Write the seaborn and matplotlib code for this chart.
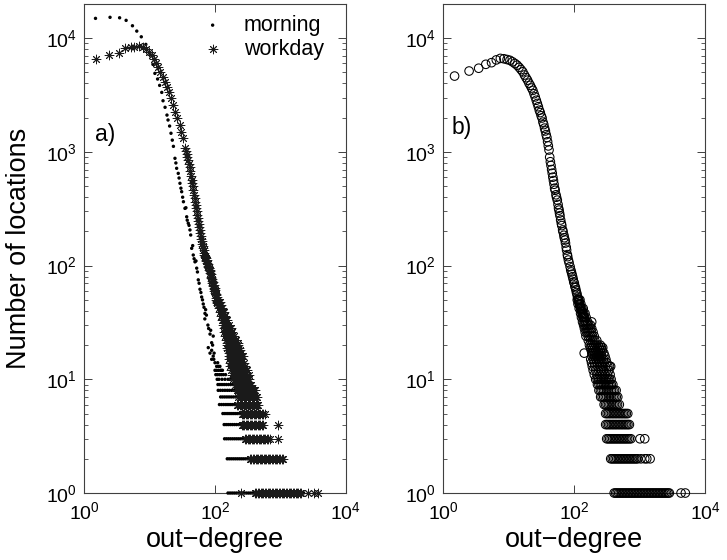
import numpy as np
import pandas as pd
import matplotlib
matplotlib.use("Agg")
import matplotlib.pyplot as plt
import seaborn as sns
from matplotlib.ticker import FixedLocator, NullLocator, LogLocator, LogFormatterSciNotation

plt.rcParams['font.family'] = ['Liberation Sans', 'DejaVu Sans']
plt.rcParams['mathtext.fontset'] = 'custom'
plt.rcParams['mathtext.rm'] = 'Liberation Sans'
plt.rcParams['mathtext.it'] = 'Liberation Sans:italic'
plt.rcParams['mathtext.bf'] = 'Liberation Sans:bold'

# ---------------- panel a) : morning ----------------
morning_head_deg = [1.5, 2.5, 3.5, 4.4, 5.5, 6.4, 7.5, 8.8, 10.2, 11.3, 12.1, 13.3, 14.3, 15.4,
                    16.1, 17.3, 18.5, 19.2, 20.3, 21.3, 22.3, 23.2, 24.5, 25.3, 26.0, 27.5, 28.3,
                    29.2, 30.2, 31.0, 32.1, 33.0, 34.8, 36.0, 37.0, 37.7, 39.1, 40.2, 41.5, 42.6,
                    44.1, 45.7, 46.6, 48.0, 49.5, 51.3, 52.6, 54.0, 55.6, 57.2, 59.0, 61.0, 62.6,
                    64.5, 66.2, 68.0, 70.3, 72.0, 74.0, 70.0]
morning_head_cnt = [14960, 15280, 15140, 14370, 12880, 11560, 10300, 8830, 7120, 5890, 4910, 4380,
                    3850, 3340, 2820, 2470, 2110, 1910, 1690, 1460, 1270, 1120, 879, 800, 718, 648,
                    590, 530, 480, 447, 400, 365, 319, 323, 269, 251, 236, 226, 206, 186, 142, 150,
                    124, 115, 108, 110, 95, 88, 75, 70, 62, 58, 53, 50, 46, 43, 38, 41, 36.7, 34]
morning_scatter_deg = [84, 94, 89, 79, 89, 84, 94, 89, 100, 106, 119, 100, 126, 103, 78, 80, 86,
                       92, 97, 110, 113, 96]
morning_scatter_cnt = [25, 24, 21, 19, 18, 17, 16, 15, 14, 13, 13, 12, 12, 11, 30, 28, 27,
                       20, 17, 14, 13, 15]
morning_levels = [12, 11, 10, 9, 8, 7, 6, 5, 4, 3, 2, 1]
morning_level_deg = [
    [106, 113, 121, 130],
    [109, 117, 125, 134, 145],
    [108, 115, 128, 142, 158, 169, 185, 205],
    [111, 119, 128, 138, 149, 161, 174, 188, 205, 225],
    [112, 121, 131, 142, 154, 166, 180, 195, 212, 232, 255],
    [122, 131, 141, 152, 164, 177, 191, 206, 223, 242, 263, 286],
    [117, 126, 136, 147, 158, 170, 183, 197, 212, 228, 246, 266, 288, 312],
    [132, 142, 153, 164, 176, 189, 203, 218, 234, 251, 270, 290, 312, 336, 362],
    [138, 148, 159, 171, 184, 198, 213, 229, 246, 264, 284, 305, 328, 353, 380, 410],
    [140, 150, 161, 173, 186, 200, 215, 231, 248, 266, 286, 307, 330, 355, 382, 411, 442, 476],
    [154, 165, 177, 190, 204, 219, 235, 252, 270, 290, 311, 334, 358, 384, 412, 442, 474, 508,
     545, 585, 628, 674, 723, 776, 832, 893, 958, 1028, 1103],
    [158, 170, 183, 197, 212, 228, 245, 263, 283, 304, 327, 351, 377, 405, 435, 467, 502, 539,
     579, 622, 668, 717, 770, 827, 888, 954, 1024, 1100, 1181, 1268, 1362, 1462, 1570, 1686,
     1811, 1945, 2089, 2250],
]

# ---------------- panel a) : workday ----------------
workday_head_deg = [1.5, 2.4, 3.4, 4.3, 5.2, 5.9, 6.9, 8.0, 8.9, 9.8, 10.8, 11.7, 12.7, 13.5, 14.6,
                    15.9, 17.1, 18.7, 20.0, 21.5, 23.1, 24.8, 26.6, 28.9, 30.6, 32.8, 35.2]
workday_head_cnt = [6560, 7120, 7460, 8150, 8370, 8420, 8490, 8420, 8030, 7600, 7120, 6560, 6010,
                    5540, 5080, 4580, 4140, 3740, 3340, 2960, 2590, 2260, 1970, 1730, 1510, 1320, 1080]
workday_mid_deg = [36, 37, 38, 39, 40, 41, 42, 43, 44, 45, 46, 47, 48, 49, 50, 51, 52, 53, 54, 55,
                   56, 57, 58, 59, 60, 61, 62, 63, 64, 65, 66, 67, 68, 69, 70, 71, 72, 73, 74, 75,
                   76, 77, 78, 79, 80, 81, 82, 83, 84, 85, 86, 87, 88, 89, 90, 91, 92, 93, 94, 95,
                   96, 97, 98, 99, 100, 101, 102, 103, 104, 105, 106, 107, 108, 109, 110]
workday_mid_cnt = [1020, 960, 900, 850, 790, 730, 680, 620, 570, 530, 500, 460, 420, 390, 365, 340,
                   320, 300, 280, 262, 248, 232, 218, 205, 195, 184, 172, 165, 155, 150, 142, 136,
                   130, 125, 122, 118, 116, 112, 110, 113, 106, 104, 100, 98, 96, 95, 92, 90, 91,
                   86, 84, 80, 78, 76, 74, 71, 72, 68, 66, 67, 64, 62, 60, 63, 61, 57, 55, 56, 52,
                   50, 53, 49, 47, 48, 45]
workday_levels = [48, 45, 42, 39, 36, 33, 30, 28, 26, 24, 22, 21, 20, 19, 18, 17, 16, 15, 14, 13,
                  12, 11, 10, 9, 8, 7, 6, 5, 4, 3, 2, 1]
workday_level_deg = [
    [110, 116, 121],
    [113, 119, 125],
    [116, 122, 129],
    [119, 126, 133, 139],
    [123, 130, 137, 144],
    [128, 134, 141, 148, 154],
    [132, 139, 146, 154, 162],
    [135, 143, 151, 160, 169, 178],
    [139, 147, 156, 165, 174, 184],
    [142, 151, 161, 171, 181, 192],
    [146, 156, 166, 177, 188, 200, 212],
    [150, 226],
    [152, 162, 173, 185, 197, 210, 222],
    [155, 166, 178, 190, 203, 217, 231],
    [158, 170, 182, 195, 209, 224, 239],
    [161, 173, 186, 200, 215, 231, 248],
    [164, 177, 191, 205, 221, 238, 255, 270],
    [166, 180, 195, 210, 227, 245, 263],
    [168, 183, 199, 216, 234, 253, 273],
    [170, 186, 203, 221, 240, 260, 285],
    [178, 194, 212, 231, 251, 272, 296, 310],
    [184, 201, 219, 238, 259, 281, 305, 325],
    [191, 200, 210, 220, 231, 242, 254, 266, 279, 292, 306, 321, 336],
    [204, 214, 224, 235, 246, 258, 270, 283, 296, 310, 325, 341, 361],
    [214, 224, 235, 246, 258, 270, 283, 297, 311, 326, 342, 358, 375, 392, 407],
    [228, 239, 250, 262, 275, 288, 302, 316, 331, 347, 364, 381, 399, 417, 434],
    [215, 226, 237, 249, 261, 274, 287, 301, 316, 331, 347, 364, 382, 400, 419, 437, 456],
    [255, 267, 280, 294, 308, 323, 339, 355, 372, 390, 409, 429, 450, 472, 495, 519, 545, 575],
    [255, 267, 280, 294, 308, 323, 339, 355, 372, 390, 409, 429, 450, 472, 495, 519, 544, 920],
    [288, 302, 317, 332, 348, 365, 383, 401, 421, 441, 463, 485, 509, 534, 560, 588, 617, 652,
     690, 920],
    [344, 361, 378, 397, 416, 436, 457, 480, 503, 528, 554, 581, 609, 639, 670, 703, 738, 774,
     812, 852, 893, 937, 983, 1040, 1100],
    [254, 410, 430, 452, 475, 499, 524, 550, 578, 607, 637, 669, 703, 738, 775, 814, 855, 898,
     943, 990, 1040, 1092, 1147, 1204, 1265, 1328, 1395, 1465, 1538, 1615, 1696, 1781, 1870,
     1963, 2090, 2660, 3240, 3750],
]

# ---------------- panel b) ----------------
b_head_deg = [1.5, 2.5, 3.5, 4.5, 5.5, 6.5, 7.5, 8.5, 9.5, 10.5, 11.5, 12.5, 13.5, 14.5, 15.5,
              16.5, 17.5, 18.5, 19.5, 20.5, 21.5, 22.5, 23.5, 24.5, 25.5, 26.5, 27.5, 28.5, 29.5,
              30.5, 31.5, 32.5, 33.5, 34.5, 35.5, 36.5, 37.5, 38.5, 39.5, 40.5, 41.5, 42.5, 43.5,
              44.5, 45.5, 46.5, 47.5, 48.5, 49.5, 50.5, 51.5, 53, 54, 55.5, 57, 58, 59, 60, 61,
              62.5, 64, 65, 67, 68, 70, 71, 73, 74, 76, 77, 79, 80, 82, 84, 87, 89, 91, 93, 95,
              97, 99, 101, 103, 105, 107, 109, 111, 113, 115, 117, 119, 121, 124, 127, 130, 133,
              136, 139, 142]
b_head_cnt = [4650, 5150, 5450, 5900, 6100, 6450, 6650, 6600, 6500, 6400, 6200, 6000, 5800, 5550,
              5300, 5070, 4750, 4500, 4280, 4030, 3850, 3650, 3480, 3250, 3050, 2850, 2670, 2500,
              2330, 2220, 2080, 1990, 1830, 1740, 1620, 1530, 1420, 1340, 1230, 1130, 1040, 900,
              820, 760, 700, 650, 600, 560, 520, 480, 460, 420, 400, 377, 345, 320, 308, 290, 275,
              252, 235, 225, 206, 198, 185, 176, 168, 158, 145, 137, 125, 120, 112, 106, 98, 92,
              88, 84, 80, 76, 72, 70, 66, 64, 61, 58, 56, 53, 51, 50, 48, 46, 44, 42, 40, 39, 37,
              36, 35]
b_levels = [50, 46, 42, 38, 35, 32, 30, 28, 26, 24, 22, 20, 19, 18, 17, 16, 15, 14, 13, 12, 11,
            10, 9, 8, 7, 6, 5, 4, 3, 2, 1]
b_level_deg = [
    [112, 118, 123],
    [115, 121, 127],
    [120, 126, 132, 138],
    [126, 133, 140, 147],
    [130, 137, 145, 153],
    [135, 143, 152, 161, 186],
    [140, 149, 158, 168, 178],
    [144, 154, 164, 175, 186],
    [148, 159, 170, 182, 195],
    [152, 164, 176, 189, 203],
    [165, 178, 192, 207, 222],
    [172, 186, 201, 217, 234, 252],
    [178, 193, 209, 226, 244, 262, 274],
    [183, 198, 215, 233, 252, 270],
    [143, 187, 203, 220, 238, 257, 285],
    [188, 205, 223, 242, 262, 296],
    [180, 197, 216, 236, 258, 281, 306],
    [185, 203, 222, 243, 266, 290, 316],
    [190, 208, 228, 250, 274, 300, 328, 348, 362],
    [196, 215, 236, 259, 284, 311, 340],
    [204, 224, 246, 270, 296, 324, 355],
    [214, 226, 238, 251, 265, 280, 296, 313, 331, 349, 368],
    [228, 240, 253, 267, 282, 298, 315, 333, 352, 371, 391],
    [240, 253, 267, 282, 298, 315, 333, 352, 372, 393, 415, 439],
    [255, 269, 284, 300, 317, 335, 354, 374, 395, 418, 441, 465],
    [288, 303, 319, 336, 354, 373, 393, 414, 437, 461, 491],
    [304, 320, 337, 355, 374, 394, 415, 437, 460, 485, 511, 538, 567, 597, 628, 661],
    [304, 320, 337, 355, 374, 394, 415, 437, 461, 486, 512, 540, 569, 600, 632, 665, 700],
    [315, 332, 350, 369, 389, 410, 432, 455, 480, 506, 533, 562, 592, 624, 658, 697, 739, 1015,
     1200],
    [363, 382, 403, 425, 448, 472, 497, 524, 552, 582, 613, 646, 681, 718, 757, 798, 841, 886,
     934, 1050, 1200, 1290, 1450],
    [410, 432, 455, 480, 506, 533, 562, 592, 624, 658, 693, 731, 770, 812, 856, 902, 951, 1002,
     1056, 1113, 1173, 1237, 1304, 1374, 1449, 1527, 1609, 1696, 1788, 1885, 1987, 2094, 2207,
     2326, 2452, 2585, 2725, 2850, 4300, 5000],
]


def build(head_deg, head_cnt, extra_deg, extra_cnt, levels, level_deg):
    xs = list(head_deg) + list(extra_deg)
    ys = list(head_cnt) + list(extra_cnt)
    for c, ds in zip(levels, level_deg):
        xs += list(ds)
        ys += [c] * len(ds)
    return pd.DataFrame({"deg": xs, "cnt": ys})


df_morning = build(morning_head_deg, morning_head_cnt, morning_scatter_deg, morning_scatter_cnt,
                   morning_levels, morning_level_deg)
df_workday = build(workday_head_deg, workday_head_cnt, workday_mid_deg, workday_mid_cnt,
                   workday_levels, workday_level_deg)
df_b = build(b_head_deg, b_head_cnt, [], [], b_levels, b_level_deg)

fig = plt.figure(figsize=(7.27, 5.60), dpi=100)
ax1 = fig.add_axes([0.1155, 0.1196, 0.3604, 0.8732])
ax2 = fig.add_axes([0.6094, 0.1196, 0.3604, 0.8732])

sns.scatterplot(data=df_morning, x="deg", y="cnt", ax=ax1, marker="o", s=6, color="black",
                edgecolor="none", label="morning", clip_on=False, zorder=3)
sns.scatterplot(data=df_workday, x="deg", y="cnt", ax=ax1, marker=(8, 2, 0), s=40,
                color="#1a1a1a", linewidth=0.65, label="workday", clip_on=False, zorder=4)
sns.scatterplot(data=df_b, x="deg", y="cnt", ax=ax2, marker="o", s=38, facecolor="none",
                edgecolor="black", linewidth=0.75, clip_on=False, zorder=3)

for ax in (ax1, ax2):
    ax.set_xscale("log")
    ax.set_yscale("log")
    ax.set_xlim(1, 1e4)
    ax.set_ylim(1, 2e4)
    ax.xaxis.set_major_locator(FixedLocator([1, 100, 10000]))
    ax.xaxis.set_minor_locator(NullLocator())
    ax.yaxis.set_major_locator(FixedLocator([1, 10, 100, 1000, 10000]))
    ax.yaxis.set_minor_locator(LogLocator(base=10, subs=np.arange(2, 10), numticks=20))
    ax.xaxis.set_major_formatter(LogFormatterSciNotation())
    ax.yaxis.set_major_formatter(LogFormatterSciNotation())
    ax.tick_params(which="both", direction="in", top=True, right=True, labelsize=14,
                   color="0.25")
    ax.tick_params(which="major", length=5.5, width=0.7)
    ax.tick_params(axis="y", which="major", pad=5)
    ax.tick_params(axis="x", which="major", pad=6)
    ax.tick_params(which="minor", length=3, width=0.6)
    for sp in ax.spines.values():
        sp.set_color("0.25")
        sp.set_linewidth(0.8)
    ax.set_xlabel("out\u2212degree", fontsize=19.5, labelpad=3)
    ax.set_ylabel("")

ax1.set_ylabel("Number of locations", fontsize=19.5, labelpad=10)
ax1.text(0.042, 0.734, "a)", transform=ax1.transAxes, fontsize=16.5, va="center", ha="left")
ax2.text(0.033, 0.748, "b)", transform=ax2.transAxes, fontsize=16.5, va="center", ha="left")

ax1.legend(loc="upper left", bbox_to_anchor=(0.45, 0.978), frameon=False, fontsize=15.5,
           handlelength=1.0, handletextpad=0.95, labelspacing=0.15, borderpad=0,
           borderaxespad=0)
if ax2.get_legend() is not None:
    ax2.get_legend().remove()

fig.savefig("out.png", dpi=100)
